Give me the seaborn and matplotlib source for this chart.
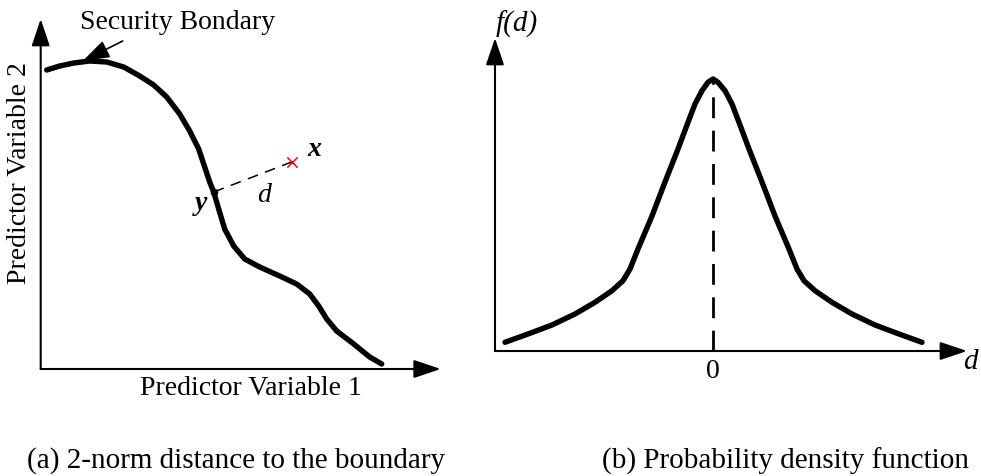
import matplotlib
matplotlib.use("Agg")
import matplotlib.pyplot as plt
import seaborn as sns
import pandas as pd

sns.set_theme(style="white")
plt.rcParams['font.family'] = ['Liberation Serif', 'DejaVu Serif']
plt.rcParams['text.color'] = 'black'

# ---- Panel (a): security boundary ----
boundary_x = [0.6, 1.9, 3.3, 4.9, 6.6, 8.3, 9.9, 11.3, 12.6, 13.9, 14.9, 15.8, 16.4,
              16.9, 17.3, 17.8, 18.4, 19.3, 20.4, 21.9, 23.9, 25.6, 26.9, 27.8, 28.6,
              29.6, 31.3, 32.9, 34.1]
boundary_y = [29.9, 30.3, 30.6, 30.8, 30.7, 30.2, 29.3, 28.4, 27.2, 25.5, 23.8, 22.0,
              20.2, 18.7, 17.7, 16.0, 14.0, 12.3, 11.0, 10.2, 9.3, 8.5, 7.5, 6.3, 5.0,
              3.8, 2.5, 1.2, 0.5]
point_y = [17.3, 17.7]
point_x = [25.1, 20.7]
left_axis_max = [40.0, 35.0]

# ---- Panel (b): probability density ----
pdf_d = [-20.8, -18.5, -16.1, -13.8, -11.8, -10.1, -9.0, -8.3, -7.5, -6.1, -4.8, -3.5,
         -2.5, -1.8, -1.1, -0.5, 0.0, 0.5, 1.2, 1.9, 2.6, 3.6, 4.9, 6.2, 7.6, 8.4, 9.1,
         10.2, 11.9, 13.9, 16.2, 18.6, 20.9]
pdf_f = [0.87, 1.7, 2.6, 3.7, 4.87, 6.03, 7.03, 8.2, 10.2, 13.5, 16.9, 20.2, 22.87,
         24.7, 26.03, 26.87, 27.2, 26.87, 26.03, 24.7, 22.87, 20.2, 16.9, 13.5, 10.2,
         8.2, 7.03, 6.03, 4.87, 3.7, 2.6, 1.7, 0.87]
right_xlim = [-21.8, 25.4]
right_ylim = [0.0, 31.3]

captions = ["(a) 2-norm distance to the boundary", "(b) Probability density function"]

W, H = 981, 477
fig = plt.figure(figsize=(W / 100, H / 100), dpi=100)

ARROW = '-|>,head_length=0.83,head_width=0.28'

def arrow(ax, start, end, lw=1.5):
    ax.annotate('', xy=end, xytext=start, xycoords='data', textcoords='data',
                arrowprops=dict(arrowstyle=ARROW, mutation_scale=20, lw=lw,
                                color='black', shrinkA=0, shrinkB=0),
                annotation_clip=False)

# Left axes
axL = fig.add_axes([40.7 / W, (H - 370) / H, 400 / W, 350 / H])
axL.set_xlim(0, left_axis_max[0])
axL.set_ylim(0, left_axis_max[1])
axL.axis('off')
dfL = pd.DataFrame({'x': boundary_x, 'y': boundary_y})
sns.lineplot(data=dfL, x='x', y='y', ax=axL, color='black', lw=3.9, sort=False,
             solid_capstyle='round', solid_joinstyle='round', clip_on=False)
arrow(axL, (0, 0), (left_axis_max[0], 0))
arrow(axL, (0, 0), (0, left_axis_max[1]))
axL.plot([point_y[0], point_x[0]], [point_y[1], point_x[1]], color='black', lw=1.1,
         dashes=(7, 5))
axL.scatter([point_y[0]], [point_y[1]], s=20, color='black', zorder=5)
axL.scatter([point_x[0]], [point_x[1]], s=55, marker='x', color='red', lw=1.1, zorder=5)
axL.text(point_x[0] + 1.6, point_x[1] + 1.3, 'x', fontsize=20, fontstyle='italic',
         fontweight='bold', ha='left', va='center')
axL.text(point_y[0] - 1.3, point_y[1] - 1.0, 'y', fontsize=20, fontstyle='italic',
         fontweight='bold', ha='center', va='center')
axL.text(22.3, 17.5, 'd', fontsize=20, fontstyle='italic', ha='center', va='center')
axL.text(3.9, 34.8, 'Security Bondary', fontsize=20, ha='left', va='center')
arrow(axL, (8.2, 32.8), (4.2, 30.8), lw=1.2)
axL.text(21.0, -1.9, 'Predictor Variable 1', fontsize=20, ha='center', va='center')
axL.text(-2.1, 19.7, 'Predictor Variable 2', fontsize=20, ha='center', va='center',
         rotation=90)

# Right axes
axR = fig.add_axes([495 / W, (H - 352) / H, (967 - 495) / W, (352 - 39) / H])
axR.set_xlim(*right_xlim)
axR.set_ylim(*right_ylim)
axR.axis('off')
dfR = pd.DataFrame({'d': pdf_d, 'f': pdf_f})
sns.lineplot(data=dfR, x='d', y='f', ax=axR, color='black', lw=3.9, sort=False,
             solid_capstyle='round', solid_joinstyle='round', clip_on=False)
arrow(axR, (right_xlim[0], 0), (right_xlim[1], 0))
arrow(axR, (right_xlim[0], 0), (right_xlim[0], right_ylim[1]))
peak = max(pdf_f)
axR.plot([0, 0], [0, peak], color='black', lw=2.0, dashes=(7.5, 4.5))
axR.text(0, -2.0, '0', fontsize=20, ha='center', va='center')
axR.text(25.7, -1.0, 'd', fontsize=21, fontstyle='italic', ha='center', va='center')
axR.text(right_xlim[0] + 0.1, 32.8, 'f(d)', fontsize=21, fontstyle='italic',
         ha='left', va='center')

fig.text(236 / W, 1 - 461 / H, captions[0], fontsize=21, ha='center', va='center')
fig.text(786 / W, 1 - 461 / H, captions[1], fontsize=21, ha='center', va='center')

fig.savefig('out.png', dpi=100, facecolor='white')
